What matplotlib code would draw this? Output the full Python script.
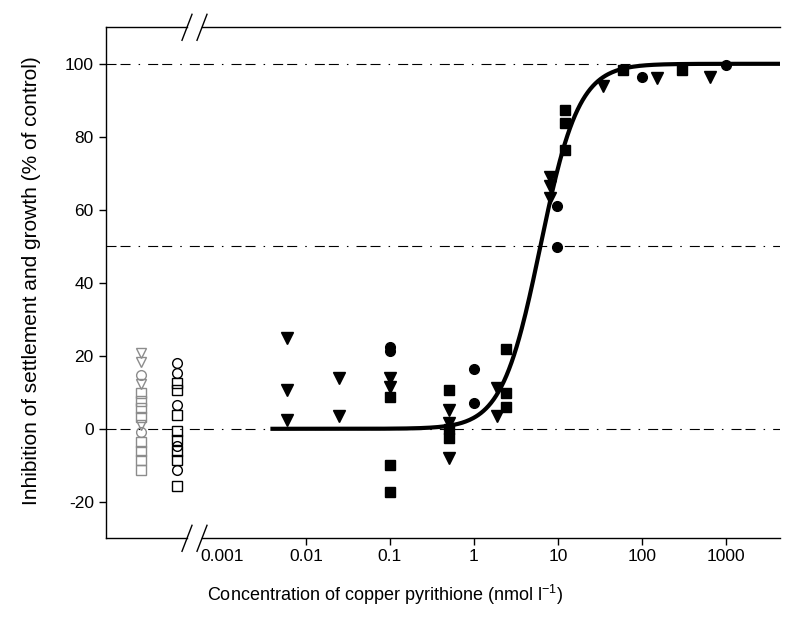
import numpy as np
import matplotlib
matplotlib.use('Agg')
import matplotlib.pyplot as plt

plt.rcParams['font.family'] = ['Liberation Sans', 'DejaVu Sans']
plt.rcParams['mathtext.default'] = 'regular'
plt.rcParams['lines.scale_dashes'] = False
plt.rcParams['axes.unicode_minus'] = False

# controls (plotted left of the axis break)
ctrl_grey_x = 1.1e-4
ctrl_grey_tri = [20.8, 18.3, 12.2, 1.0]
ctrl_grey_circ = [14.7, -0.8]
ctrl_grey_sq = [9.7, 7.7, 5.6, 3.1, -3.5, -6.1, -8.6, -11.3]

ctrl_black_x = 2.9e-4
ctrl_black_circ = [18.0, 15.3, 6.6, -4.8, -11.2]
ctrl_black_sq = [12.5, 10.7, 3.8, -0.5, -3.0, -6.2, -8.5, -15.8]

# treatments
tri_x = [0.006, 0.006, 0.006, 0.025, 0.025, 0.1, 0.1, 0.5, 0.5, 0.5,
         1.9, 1.9, 8.1, 8.1, 8.1, 35, 150, 650]
tri_y = [24.8, 10.7, 2.5, 13.9, 3.4, 13.9, 11.5, 5.2, 1.6, -8.0,
         11.1, 3.4, 69.1, 66.4, 63.2, 93.8, 96.2, 96.5]
circ_x = [0.1, 0.1, 1.0, 1.0, 9.9, 9.9, 100, 1000]
circ_y = [22.5, 21.2, 16.4, 7.2, 61.1, 49.9, 96.5, 99.7]
sq_x = [0.1, 0.1, 0.1, 0.5, 0.5, 0.5, 2.4, 2.4, 2.4, 12.2, 12.2, 12.2, 60, 300]
sq_y = [8.8, -9.9, -17.3, 10.6, 0.0, -2.5, 21.9, 9.8, 6.0, 87.4, 83.8, 76.4, 98.4, 98.4]

# fitted log-logistic curve (parameters)
ec50 = 6.2
hill = 1.9
curve_range = (0.004, 4400)

ref_levels = [0, 50, 100]
xticks = [0.001, 0.01, 0.1, 1, 10, 100, 1000]
xtick_labels = ['0.001', '0.01', '0.1', '1', '10', '100', '1000']
yticks = [-20, 0, 20, 40, 60, 80, 100]

W, H = 801, 632
fig = plt.figure(figsize=(W / 100, H / 100), dpi=100)
x0, x1, y0, y1 = 106.3, 780, 27.3, 538.3
ax = fig.add_axes([x0 / W, 1 - y1 / H, (x1 - x0) / W, (y1 - y0) / H])
ax.set_xscale('log')
ax.set_xlim(10 ** -4.377, 10 ** 3.646)
ax.set_ylim(-30, 110)

# reference lines
dash = (0, (7.2, 2.9, 7.2, 5.8, 1.1, 5.8))
for lv in ref_levels:
    ax.axhline(lv, color='black', lw=0.8, linestyle=dash, zorder=1)

# controls
ms = 7
ax.plot([ctrl_grey_x] * len(ctrl_grey_sq), ctrl_grey_sq, 's', ms=ms, mfc='none', mec='#8c8c8c', mew=1)
ax.plot([ctrl_grey_x] * len(ctrl_grey_circ), ctrl_grey_circ, 'o', ms=ms, mfc='none', mec='#8c8c8c', mew=1)
ax.plot([ctrl_grey_x] * len(ctrl_grey_tri), ctrl_grey_tri, 'v', ms=ms, mfc='none', mec='#8c8c8c', mew=1)
ax.plot([ctrl_black_x] * len(ctrl_black_sq), ctrl_black_sq, 's', ms=ms, mfc='none', mec='black', mew=1)
ax.plot([ctrl_black_x] * len(ctrl_black_circ), ctrl_black_circ, 'o', ms=ms, mfc='none', mec='black', mew=1)

# curve
xc = np.logspace(np.log10(curve_range[0]), np.log10(curve_range[1]), 400)
yc = 100 / (1 + (ec50 / xc) ** hill)
ax.plot(xc, yc, color='black', lw=3, zorder=3)

# treatments
ax.plot(tri_x, tri_y, 'v', color='black', ms=8, zorder=4)
ax.plot(circ_x, circ_y, 'o', color='black', ms=7, zorder=4)
ax.plot(sq_x, sq_y, 's', color='black', ms=6.5, zorder=4)

# axes, with a break in top and bottom
for s in ['top', 'right', 'bottom']:
    ax.spines[s].set_visible(False)
ax.spines['left'].set_linewidth(1)
b1 = (187 - x0) / (x1 - x0)
b2 = (202 - x0) / (x1 - x0)
dx = 5 / (x1 - x0)
dy = 13 / (y1 - y0)
for yy in [0, 1]:
    ax.plot([0, b1], [yy, yy], color='black', lw=1, transform=ax.transAxes, clip_on=False)
    ax.plot([b2, 1], [yy, yy], color='black', lw=1, transform=ax.transAxes, clip_on=False)
    for b in [b1, b2]:
        ax.plot([b - dx, b + dx], [yy - dy, yy + dy], color='black', lw=1,
                transform=ax.transAxes, clip_on=False)

ax.set_xticks(xticks)
ax.set_xticklabels(xtick_labels)
ax.xaxis.set_minor_locator(matplotlib.ticker.NullLocator())
ax.set_yticks(yticks)
ax.tick_params(axis='both', direction='out', length=5, width=1, labelsize=12.5, pad=4)
ax.tick_params(axis='x', pad=3)
ax.xaxis.get_major_ticks()[0].tick1line.set_visible(False)

ax.set_xlabel('Concentration of copper pyrithione (nmol l$^{-1}$)', fontsize=13)
ax.set_ylabel('Inhibition of settlement and growth (% of control)', fontsize=15)
ax.xaxis.set_label_coords((385 - x0) / (x1 - x0), (y1 - 583) / (y1 - y0))
ax.yaxis.set_label_coords((41 - x0) / (x1 - x0), (y1 - 281) / (y1 - y0))

fig.savefig('out.png', dpi=100)
